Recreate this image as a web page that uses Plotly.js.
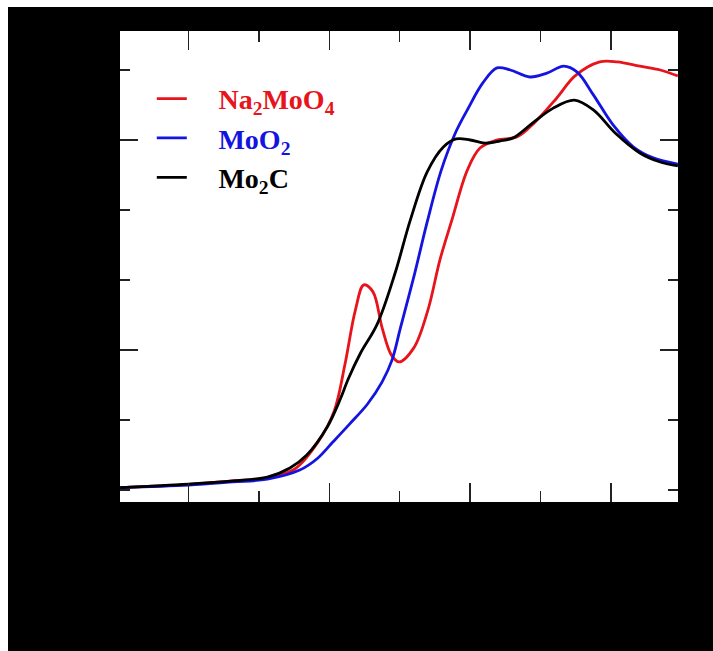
<!DOCTYPE html>
<html>
<head>
<meta charset="utf-8">
<script src="https://cdn.plot.ly/plotly-3.0.1.min.js"></script>
<style>
  html, body { margin: 0; padding: 0; background: #ffffff; }
  #chart { position: absolute; left: 8px; top: 7px; width: 705px; height: 644px; }
</style>
</head>
<body>
<div id="chart"></div>
<script>
// Photon energy (eV) and normalized absorption
const energyMo2C = [19970.3, 19980.0, 19986.3, 19991.2, 19994.4, 19996.8, 19999.7, 20001.5, 20002.7, 20004.4, 20006.8, 20009.3, 20011.5, 20013.9, 20016.2, 20018.0, 20020.0, 20022.1, 20024.2, 20026.1, 20028.9, 20031.8, 20034.8, 20037.5, 20040.6, 20044.1, 20047.0, 20049.5];
const muMo2C     = [0.007, 0.017, 0.026, 0.037, 0.063, 0.100, 0.180, 0.257, 0.318, 0.390, 0.474, 0.617, 0.771, 0.909, 0.980, 1.003, 1.000, 0.991, 0.997, 1.006, 1.049, 1.091, 1.114, 1.086, 1.020, 0.963, 0.937, 0.926];

const energyNa2MoO4 = [19970.3, 19980.0, 19986.3, 19991.2, 19995.1, 19998.4, 20000.7, 20002.2, 20003.7, 20004.9, 20006.2, 20007.5, 20008.8, 20009.9, 20012.0, 20014.0, 20015.7, 20017.4, 20019.6, 20021.4, 20023.8, 20026.7, 20029.2, 20032.3, 20034.9, 20038.4, 20040.9, 20044.1, 20047.0, 20049.5];
const muNa2MoO4     = [0.007, 0.016, 0.026, 0.034, 0.060, 0.137, 0.226, 0.357, 0.514, 0.586, 0.566, 0.463, 0.386, 0.366, 0.406, 0.514, 0.657, 0.771, 0.914, 0.977, 1.000, 1.009, 1.051, 1.120, 1.183, 1.223, 1.223, 1.211, 1.200, 1.183];

const energyMoO2 = [19970.3, 19980.0, 19986.3, 19991.2, 19995.8, 19998.3, 20000.5, 20002.9, 20005.4, 20007.5, 20008.9, 20010.1, 20012.1, 20013.9, 20015.9, 20017.9, 20019.6, 20021.8, 20023.8, 20025.7, 20028.5, 20030.9, 20033.3, 20035.2, 20037.5, 20040.3, 20043.2, 20046.0, 20049.5];
const muMoO2     = [0.007, 0.014, 0.023, 0.031, 0.057, 0.090, 0.137, 0.189, 0.245, 0.309, 0.371, 0.463, 0.617, 0.766, 0.914, 1.020, 1.086, 1.163, 1.206, 1.200, 1.180, 1.191, 1.211, 1.194, 1.129, 1.043, 0.980, 0.949, 0.931];

const gap = '\u00A0\u00A0\u00A0\u2009';
const seriesNames = [
  gap + '<span style="color:#e8141c">Na<sub>2</sub>MoO<sub>4</sub></span>',
  gap + '<span style="color:#1414e0">MoO<sub>2</sub></span>',
  gap + '<span style="color:#000000">Mo<sub>2</sub>C</span>'
];

const traces = [
  { x: energyNa2MoO4, y: muNa2MoO4, name: seriesNames[0], mode: 'lines',
    line: { color: '#e8141c', width: 2.8, shape: 'spline', smoothing: 1 } },
  { x: energyMoO2, y: muMoO2, name: seriesNames[1], mode: 'lines',
    line: { color: '#1414e0', width: 2.8, shape: 'spline', smoothing: 1 } },
  { x: energyMo2C, y: muMo2C, name: seriesNames[2], mode: 'lines',
    line: { color: '#000000', width: 2.8, shape: 'spline', smoothing: 1 } }
];

const layout = {
  width: 705, height: 644,
  margin: { l: 112, r: 35, t: 24, b: 149 },
  paper_bgcolor: '#000000',
  plot_bgcolor: '#ffffff',
  font: { family: '"Liberation Serif", "Times New Roman", serif', color: '#000000', size: 20 },
  showlegend: true,
  legend: {
    x: 0.057, y: 0.909, xanchor: 'left', yanchor: 'top',
    bgcolor: 'rgba(255,255,255,0)', borderwidth: 0,
    font: { family: '"Liberation Serif", "Times New Roman", serif', size: 28, weight: 'bold', color: '#000000' },
    itemwidth: 30, tracegroupgap: 0
  },
  xaxis: {
    range: [19970.27, 20049.52],
    tick0: 19980, dtick: 20,
    ticks: 'inside', ticklen: 19, tickwidth: 1.5, tickcolor: '#222222',
    minor: { dtick: 10, ticks: 'inside', ticklen: 11, tickwidth: 1.5, tickcolor: '#222222', showgrid: false },
    showgrid: false, zeroline: false,
    showline: true, linecolor: '#000000', linewidth: 2, mirror: 'ticks',
    tickfont: { color: '#000000', size: 20 },
    title: { text: 'Energy (eV)', font: { color: '#000000', size: 22 } }
  },
  yaxis: {
    range: [-0.0343, 1.3114],
    tick0: 0.4, dtick: 0.6,
    ticks: 'inside', ticklen: 18, tickwidth: 1.5, tickcolor: '#222222',
    minor: { dtick: 0.2, ticks: 'inside', ticklen: 10, tickwidth: 1.5, tickcolor: '#222222', showgrid: false },
    showgrid: false, zeroline: false,
    showline: true, linecolor: '#000000', linewidth: 2, mirror: 'ticks',
    tickfont: { color: '#000000', size: 20 },
    title: { text: 'Normalized absorption (a.u.)', font: { color: '#000000', size: 22 } }
  }
};

Plotly.newPlot('chart', traces, layout, { displayModeBar: false, staticPlot: true });
</script>
</body>
</html>
